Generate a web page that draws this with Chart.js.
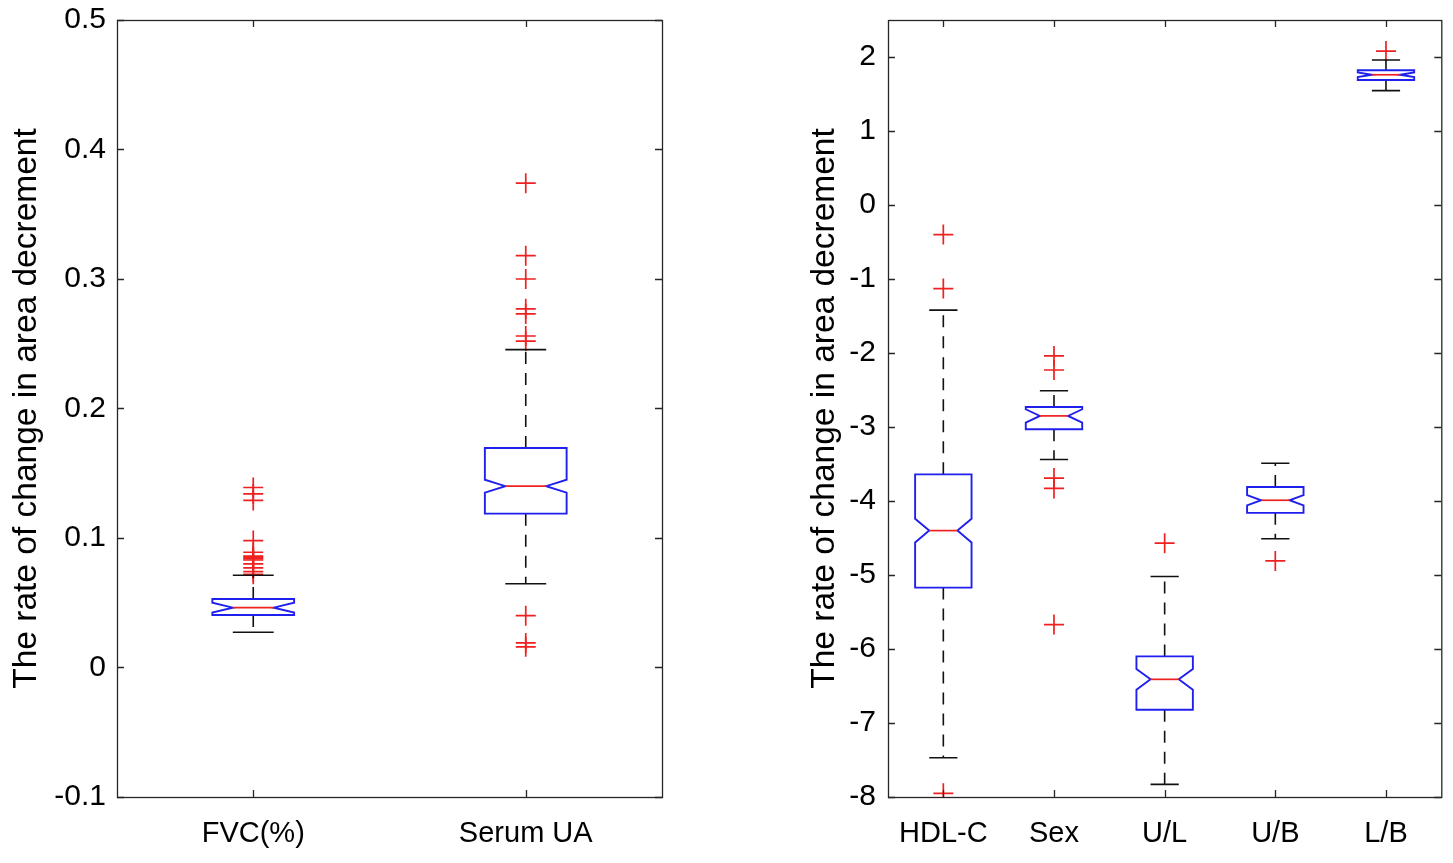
<!DOCTYPE html>
<html>
<head>
<meta charset="utf-8">
<script src="https://cdn.jsdelivr.net/npm/chart.js@4.4.0/dist/chart.umd.min.js"></script>
<style>
    html, body { margin: 0; padding: 0; background: #fff; }
    .wrap { position: absolute; top: 0; height: 863px; }
    #left-wrap { left: 0; width: 726px; }
    #right-wrap { left: 726px; width: 727px; }
</style>
</head>
<body>
<div class="wrap" id="left-wrap"><canvas id="leftChart"></canvas></div>
<div class="wrap" id="right-wrap"><canvas id="rightChart"></canvas></div>
<script>
// Painel esquerdo
const leftLabels = ['FVC(%)', 'Serum UA'];
const leftMedian = [0.0462, 0.140];
const leftQ1 = [0.0405, 0.1188];
const leftQ3 = [0.0529, 0.1695];
const leftLow = [0.0272, 0.0647];
const leftHigh = [0.0712, 0.2455];
const leftNotch = [0.0038, 0.0050];
const leftOutliers = [
    [0.139, 0.134, 0.129, 0.098, 0.089, 0.086, 0.085, 0.084, 0.083, 0.080, 0.077, 0.074, 0.072],
    [0.374, 0.318, 0.300, 0.277, 0.273, 0.256, 0.252, 0.040, 0.019, 0.016]
];
const leftTicks = [-0.1, 0, 0.1, 0.2, 0.3, 0.4, 0.5];

// Painel direito
const rightLabels = ['HDL-C', 'Sex', 'U/L', 'U/B', 'L/B'];
const rightMedian = [-4.40, -2.85, -6.41, -3.99, 1.76];
const rightQ1 = [-5.17, -3.03, -6.82, -4.16, 1.69];
const rightQ3 = [-3.64, -2.73, -6.10, -3.81, 1.82];
const rightLow = [-7.47, -3.44, -7.83, -4.51, 1.545];
const rightHigh = [-1.42, -2.51, -5.02, -3.49, 1.96];
const rightNotch = [0.16, 0.09, 0.14, 0.07, 0.03];
const rightOutliers = [
    [-0.40, -1.13, -7.95],
    [-2.04, -2.23, -3.69, -3.83, -5.67],
    [-4.57],
    [-4.81],
    [2.08]
];
const rightTicks = [-8, -7, -6, -5, -4, -3, -2, -1, 0, 1, 2];

const RED = '#ee2020';
const BLUE = '#2020ee';
const AXIS = '#262626';

// Desenha caixas com entalhe, mediana e bigodes usando as escalas do gráfico
const boxPlugin = {
    id: 'notchedBoxes',
    afterDatasetsDraw(chart, args, opts) {
        const ctx = chart.ctx;
        const xs = chart.scales.x;
        const ys = chart.scales.y;
        const step = xs.getPixelForValue(1) - xs.getPixelForValue(0);
        const hw = step * opts.halfWidth;
        ctx.save();
        opts.median.forEach((med, i) => {
            const x = xs.getPixelForValue(i);
            const yQ1 = ys.getPixelForValue(opts.q1[i]);
            const yQ3 = ys.getPixelForValue(opts.q3[i]);
            const yMed = ys.getPixelForValue(med);
            const yNt = ys.getPixelForValue(med + opts.notch[i]);
            const yNb = ys.getPixelForValue(med - opts.notch[i]);
            const yLo = ys.getPixelForValue(opts.low[i]);
            const yHi = ys.getPixelForValue(opts.high[i]);

            // bigodes tracejados
            ctx.strokeStyle = '#111';
            ctx.lineWidth = 1.6;
            ctx.setLineDash([12, 9]);
            ctx.beginPath();
            ctx.moveTo(x, yQ3); ctx.lineTo(x, yHi);
            ctx.moveTo(x, yQ1); ctx.lineTo(x, yLo);
            ctx.stroke();
            ctx.setLineDash([]);
            ctx.beginPath();
            ctx.moveTo(x - hw / 2, yHi); ctx.lineTo(x + hw / 2, yHi);
            ctx.moveTo(x - hw / 2, yLo); ctx.lineTo(x + hw / 2, yLo);
            ctx.stroke();

            // caixa
            ctx.strokeStyle = BLUE;
            ctx.lineWidth = 1.9;
            ctx.beginPath();
            ctx.moveTo(x - hw, yQ3);
            ctx.lineTo(x + hw, yQ3);
            ctx.lineTo(x + hw, yNt);
            ctx.lineTo(x + hw / 2, yMed);
            ctx.lineTo(x + hw, yNb);
            ctx.lineTo(x + hw, yQ1);
            ctx.lineTo(x - hw, yQ1);
            ctx.lineTo(x - hw, yNb);
            ctx.lineTo(x - hw / 2, yMed);
            ctx.lineTo(x - hw, yNt);
            ctx.closePath();
            ctx.stroke();

            // mediana
            ctx.strokeStyle = RED;
            ctx.lineWidth = 1.7;
            ctx.beginPath();
            ctx.moveTo(x - hw / 2, yMed);
            ctx.lineTo(x + hw / 2, yMed);
            ctx.stroke();
        });
        ctx.restore();
    },
    // moldura e marcas internas no estilo MATLAB
    afterDraw(chart) {
        const ctx = chart.ctx;
        const a = chart.chartArea;
        const xs = chart.scales.x;
        const ys = chart.scales.y;
        const len = 7;
        ctx.save();
        ctx.strokeStyle = AXIS;
        ctx.lineWidth = 1.3;
        ctx.strokeRect(a.left + 0.5, a.top + 0.5, a.right - a.left, a.bottom - a.top);
        ctx.beginPath();
        ys.ticks.forEach(t => {
            const y = Math.round(ys.getPixelForValue(t.value)) + 0.5;
            ctx.moveTo(a.left, y); ctx.lineTo(a.left + len, y);
            ctx.moveTo(a.right, y); ctx.lineTo(a.right - len, y);
        });
        xs.ticks.forEach((t, i) => {
            const x = Math.round(xs.getPixelForValue(i)) + 0.5;
            ctx.moveTo(x, a.bottom); ctx.lineTo(x, a.bottom - len);
            ctx.moveTo(x, a.top); ctx.lineTo(x, a.top + len);
        });
        ctx.stroke();
        ctx.restore();
    }
};

function outlierPoints(labels, list) {
    const pts = [];
    list.forEach((vals, i) => vals.forEach(v => pts.push({ x: labels[i], y: v })));
    return pts;
}

function fmtTick(v) {
    if (Math.abs(v) < 1e-9) return '0';
    return String(Math.round(v * 10) / 10);
}

function makeChart(id, cfg) {
    return new Chart(document.getElementById(id), {
        type: 'scatter',
        data: {
            datasets: [{
                data: outlierPoints(cfg.labels, cfg.outliers),
                pointStyle: 'cross',
                radius: 10,
                hoverRadius: 10,
                borderColor: RED,
                backgroundColor: RED,
                borderWidth: 1.7
            }]
        },
        options: {
            responsive: true,
            maintainAspectRatio: false,
            animation: false,
            layout: { padding: { top: 20, right: cfg.padRight, left: 0, bottom: 0 } },
            scales: {
                x: {
                    type: 'category',
                    labels: cfg.labels,
                    offset: true,
                    grid: { display: false, drawTicks: false },
                    border: { display: false },
                    ticks: { color: '#000', padding: 20, font: { family: 'Liberation Sans, Arial, sans-serif', size: 29 } },
                    afterFit: s => { s.height = 66; }
                },
                y: {
                    min: cfg.min,
                    max: cfg.max,
                    afterBuildTicks: s => { s.ticks = cfg.ticks.map(v => ({ value: v })); },
                    grid: { display: false, drawTicks: false },
                    border: { display: false },
                    ticks: { color: '#000', padding: cfg.tickPad, callback: fmtTick, font: { family: 'Liberation Sans, Arial, sans-serif', size: 30 } },
                    title: {
                        display: true,
                        text: 'The rate of change in area decrement',
                        color: '#000',
                        padding: { top: cfg.titlePad, bottom: 0 },
                        font: { family: 'Liberation Sans, Arial, sans-serif', size: 33.5, weight: 'normal' }
                    },
                    afterFit: s => { s.width = cfg.axisWidth; s.paddingTop = 0; s.paddingBottom = 0; }
                }
            },
            plugins: {
                legend: { display: false },
                tooltip: { enabled: false },
                notchedBoxes: {
                    halfWidth: cfg.halfWidth,
                    median: cfg.median, q1: cfg.q1, q3: cfg.q3,
                    low: cfg.low, high: cfg.high, notch: cfg.notch
                }
            }
        },
        plugins: [boxPlugin]
    });
}

makeChart('leftChart', {
    labels: leftLabels, median: leftMedian, q1: leftQ1, q3: leftQ3,
    low: leftLow, high: leftHigh, notch: leftNotch, outliers: leftOutliers,
    ticks: leftTicks, min: -0.1, max: 0.5,
    axisWidth: 117, padRight: 64, tickPad: 11, titlePad: 7, halfWidth: 0.15
});

makeChart('rightChart', {
    labels: rightLabels, median: rightMedian, q1: rightQ1, q3: rightQ3,
    low: rightLow, high: rightHigh, notch: rightNotch, outliers: rightOutliers,
    ticks: rightTicks, min: -8, max: 2.5,
    axisWidth: 162, padRight: 11, tickPad: 12, titlePad: 79, halfWidth: 0.255
});
</script>
</body>
</html>
